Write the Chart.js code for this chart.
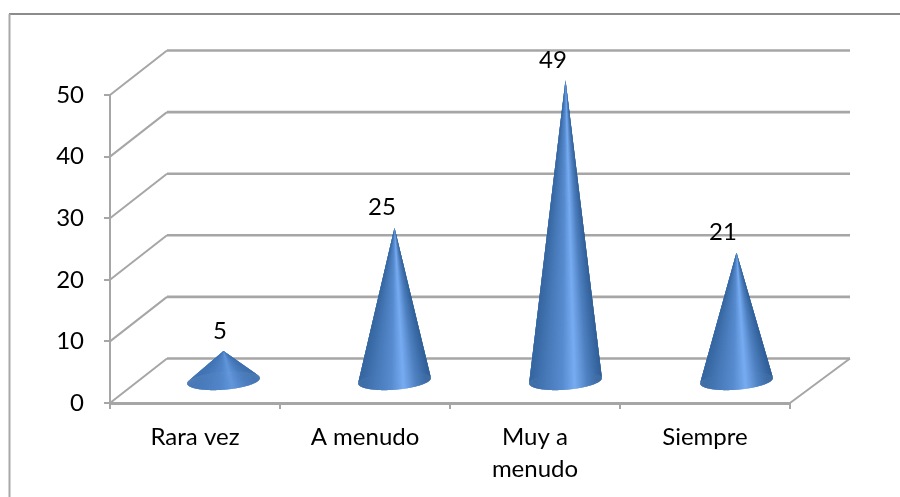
<!DOCTYPE html>
<html>
<head>
<meta charset="utf-8">
<style>
  html, body { margin: 0; padding: 0; background: #fff; }
  canvas { display: block; }
</style>
<script src="https://cdn.jsdelivr.net/npm/chart.js@4/dist/chart.umd.min.js"></script>
</head>
<body>
<canvas id="chartFrecuencia" width="900" height="497"></canvas>
<script>
const categorias = ["Rara vez", "A menudo", ["Muy a", "menudo"], "Siempre"];
const valores = [5, 25, 49, 21];
const ticksY = [0, 10, 20, 30, 40, 50];

const gris = "#a6a6a6";
const fuente = "Lato, 'Open Sans', sans-serif";
// desplazamiento de la pared del fondo respecto al plano frontal
const fondoX = 57;
const fondoY = -44.5;
// corrimiento horizontal de cada etiqueta respecto a la categoria
const etiquetaDx = [25, 17, 18, 18];

function mezcla(a, b, t) {
  return a.map((v, i) => Math.round(v + (b[i] - v) * t));
}

// color del cono segun la posicion horizontal (-1 izquierda, 1 derecha)
function colorCono(u, brillo) {
  const tramos = [
    [-1, [54, 102, 160]], [-0.6, [70, 120, 182]], [-0.1, [88, 140, 208]],
    [0.24, [120, 172, 242]], [0.6, [78, 128, 192]], [1, [48, 94, 150]]
  ];
  for (let i = 1; i < tramos.length; i++) {
    if (u <= tramos[i][0]) {
      const t = (u - tramos[i - 1][0]) / (tramos[i][0] - tramos[i - 1][0]);
      const c = mezcla(tramos[i - 1][1], tramos[i][1], t);
      const suave = mezcla([76, 128, 196], c, brillo);
      return `rgb(${suave[0]},${suave[1]},${suave[2]})`;
    }
  }
  return "rgb(48,94,150)";
}

function dibujarCono(ctx, cx, baseY, puntaY) {
  const rx = 36.5, ry = 9, giro = -4.5 * Math.PI / 180, pasos = 120;
  const paso = Math.PI / pasos;
  const brillo = Math.min(1, 0.35 + (baseY - puntaY) / 180);
  const punto = a => {
    const px = rx * Math.cos(a), py = ry * Math.sin(a);
    return [cx + px * Math.cos(giro) - py * Math.sin(giro), baseY + px * Math.sin(giro) + py * Math.cos(giro)];
  };
  // primero la mitad trasera, luego la delantera; cada gajo pisa al anterior
  const orden = [];
  for (let i = 0; i < pasos; i++) orden.push(Math.PI + i * paso);
  for (let i = 0; i < pasos; i++) orden.push(i * paso);
  orden.forEach(a => {
    const p1 = punto(a), p2 = punto(a + paso * 0.5), p3 = punto(a + paso * 2);
    ctx.fillStyle = colorCono(Math.cos(a + paso / 2), brillo);
    ctx.beginPath();
    ctx.moveTo(cx, puntaY);
    ctx.lineTo(p1[0], p1[1]);
    ctx.lineTo(p2[0], p2[1]);
    ctx.lineTo(p3[0], p3[1]);
    ctx.closePath();
    ctx.fill();
  });
}

// barras dibujadas como conos sobre el plano medio de la caja 3D
class ConoController extends Chart.BarController {
  draw() {
    const ctx = this.chart.ctx;
    const meta = this.getMeta();
    ctx.save();
    meta.data.forEach((bar, i) => {
      // la fila de conos queda un poco mas abierta que los ticks frontales
      const cx = bar.x + fondoX / 2 + i;
      dibujarCono(ctx, cx, bar.base + fondoY / 2 + 1, bar.y + fondoY / 2 + 1);
      ctx.fillStyle = "#000";
      ctx.font = "24px " + fuente;
      ctx.textAlign = "center";
      ctx.textBaseline = "middle";
      ctx.fillText(String(valores[i]), bar.x + etiquetaDx[i], bar.y + fondoY / 2 - 19);
    });
    ctx.restore();
  }
}
ConoController.id = "cono";
ConoController.defaults = Chart.BarController.defaults;
Chart.register(ConoController);

// marco, pared del fondo y suelo
const caja3d = {
  id: "caja3d",
  beforeDatasetsDraw(chart) {
    const { ctx, scales: { x, y } } = chart;
    const izq = x.left, der = x.right;
    ctx.save();
    ctx.lineCap = "butt";

    ctx.strokeStyle = "#8c8c8c";
    ctx.lineWidth = 2;
    ctx.beginPath();
    ctx.moveTo(900, 14);
    ctx.lineTo(9, 14);
    ctx.stroke();
    ctx.strokeStyle = "#a8a8a8";
    ctx.lineWidth = 2;
    ctx.beginPath();
    ctx.moveTo(9.5, 14);
    ctx.lineTo(9.5, 497);
    ctx.stroke();

    ctx.strokeStyle = gris;
    ticksY.forEach(v => {
      const py = y.getPixelForValue(v);
      ctx.lineWidth = 2.6;
      ctx.beginPath();
      ctx.moveTo(izq + fondoX, py + fondoY);
      ctx.lineTo(der + fondoX + 3, py + fondoY);
      ctx.stroke();
      ctx.lineWidth = 2;
      ctx.beginPath();
      ctx.moveTo(izq, py);
      ctx.lineTo(izq + fondoX, py + fondoY);
      ctx.stroke();
    });
    const py0 = y.getPixelForValue(0);
    ctx.lineWidth = 2;
    ctx.beginPath();
    ctx.moveTo(der, py0);
    ctx.lineTo(der + fondoX + 3, py0 + fondoY);
    ctx.stroke();
    ctx.restore();
  }
};

new Chart(document.getElementById("chartFrecuencia"), {
  type: "cono",
  data: {
    labels: categorias,
    datasets: [{ data: valores, backgroundColor: "rgba(0,0,0,0)", clip: false }]
  },
  options: {
    responsive: false,
    animation: false,
    layout: { padding: { top: 95, right: 110, left: 0, bottom: 0 } },
    plugins: { legend: { display: false }, tooltip: { enabled: false } },
    scales: {
      x: {
        afterFit: s => { s.height = 94; },
        grid: { drawOnChartArea: false, color: gris, tickLength: 6, lineWidth: 2, offset: true },
        border: { color: gris, width: 3 },
        ticks: {
          color: "#000", maxRotation: 0, autoSkip: false, padding: 12,
          font: { family: fuente, size: 24, lineHeight: 1.34 }
        }
      },
      y: {
        min: 0,
        max: 50,
        afterFit: s => { s.width = 110; },
        afterBuildTicks: s => { s.ticks = ticksY.map(v => ({ value: v })); },
        grid: { drawOnChartArea: false, color: gris, tickLength: 6, lineWidth: 2 },
        border: { color: gris, width: 2 },
        ticks: {
          color: "#000", padding: 20,
          font: { family: fuente, size: 24 }
        }
      }
    }
  },
  plugins: [caja3d]
});
</script>
</body>
</html>
